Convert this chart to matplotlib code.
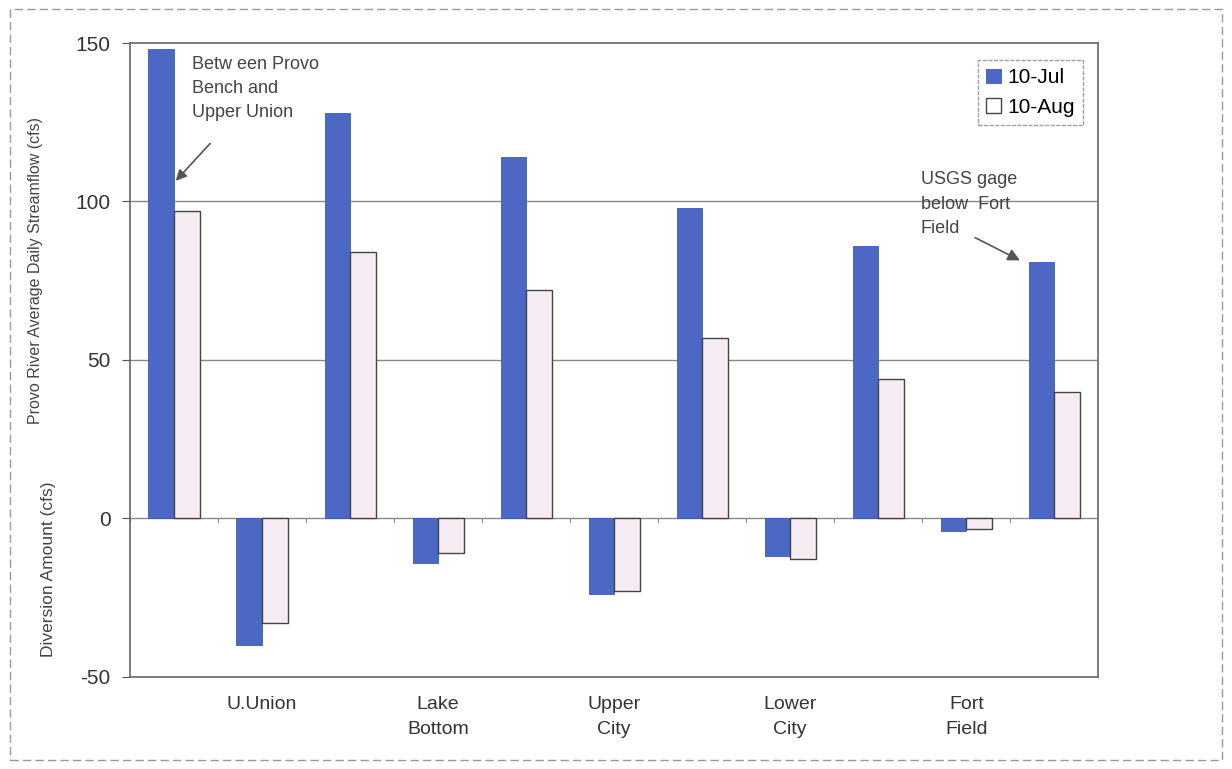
import matplotlib.pyplot as plt
from matplotlib.patches import Rectangle

plt.rcParams['font.family'] = ['Liberation Sans', 'DejaVu Sans']

# slots alternate: streamflow reach, then diversion
slots = ["", "U.Union", "", "Lake\nBottom", "", "Upper\nCity", "", "Lower\nCity", "", "Fort\nField", ""]
jul_values = [148, -40, 128, -14, 114, -24, 98, -12, 86, -4, 81]
aug_values = [97, -33, 84, -11, 72, -23, 57, -13, 44, -3.5, 40]
y_ticks = [-50, 0, 50, 100, 150]

JUL_COLOR = "#4a68c4"
AUG_COLOR = "#f6edf2"
GRAY = "#555555"

fig = plt.figure(figsize=(12.32, 7.69), dpi=100)
fig.patches.append(Rectangle((0.008, 0.012), 0.984, 0.976, transform=fig.transFigure,
                             fill=False, edgecolor="#999999", linestyle=(0, (6, 3)), lw=1))
ax = fig.add_axes([0.1055, 0.12, 0.786, 0.824])

x = list(range(len(slots)))
w = 0.29
ax.bar([i - w / 2 for i in x], jul_values, width=w, color=JUL_COLOR, edgecolor="#3d5ab0",
       linewidth=0.6, label="10-Jul", zorder=3)
ax.bar([i + w / 2 for i in x], aug_values, width=w, color=AUG_COLOR, edgecolor="#444444",
       linewidth=1.0, label="10-Aug", zorder=3)

ax.set_xlim(-0.5, len(slots) - 0.5)
ax.set_ylim(-50, 150)
ax.set_yticks(y_ticks)
ax.set_yticklabels([str(v) for v in y_ticks], fontsize=15, color="#333333")
ax.tick_params(axis="y", length=6, color=GRAY, pad=8)
for v in [0, 50, 100]:
    ax.axhline(v, color="#888888", lw=1, zorder=1)
# small category ticks on the zero line
for b in range(len(slots) + 1):
    ax.plot([b - 0.5, b - 0.5], [0, -1.2], color="#888888", lw=0.8, zorder=2)

ax.set_xticks(x)
ax.set_xticklabels(slots, fontsize=14, color="#333333", linespacing=1.6)
ax.tick_params(axis="x", length=0, pad=14)
for s in ax.spines.values():
    s.set_color("#666666")
    s.set_linewidth(1.2)

fig.text(0.029, 0.648, "Provo River Average Daily Streamflow (cfs)", rotation=90,
         fontsize=11.5, color="#444444", ha="center", va="center")
fig.text(0.039, 0.26, "Diversion Amount (cfs)", rotation=90,
         fontsize=12.5, color="#444444", ha="center", va="center")

leg = ax.legend(loc="upper right", bbox_to_anchor=(0.995, 0.99), fontsize=15,
                frameon=True, fancybox=False, edgecolor="#888888", handlelength=0.7,
                handleheight=0.7, handletextpad=0.3, borderpad=0.4, labelspacing=0.5)
leg.get_frame().set_linestyle((0, (3, 1)))
leg.legend_handles[1].set_facecolor("white")

ax.text(0.205, 146, "Betw een Provo\nBench and\nUpper Union", fontsize=13, color="#444444",
        va="top", ha="left", linespacing=1.55, zorder=5)
ax.annotate("", xy=(0.02, 106.5), xytext=(0.41, 118.3),
            arrowprops=dict(arrowstyle="-|>", color="#555555", lw=1.2,
                            shrinkA=0, shrinkB=0, mutation_scale=16), zorder=5)
ax.text(8.48, 109.5, "USGS gage\nbelow  Fort\nField", fontsize=13, color="#444444",
        va="top", ha="left", linespacing=1.55, zorder=5)
ax.annotate("", xy=(9.61, 81.4), xytext=(9.1, 88.6),
            arrowprops=dict(arrowstyle="-|>", color="#555555", lw=1.2,
                            shrinkA=0, shrinkB=0, mutation_scale=18), zorder=5)

fig.savefig("out.png", dpi=100)
